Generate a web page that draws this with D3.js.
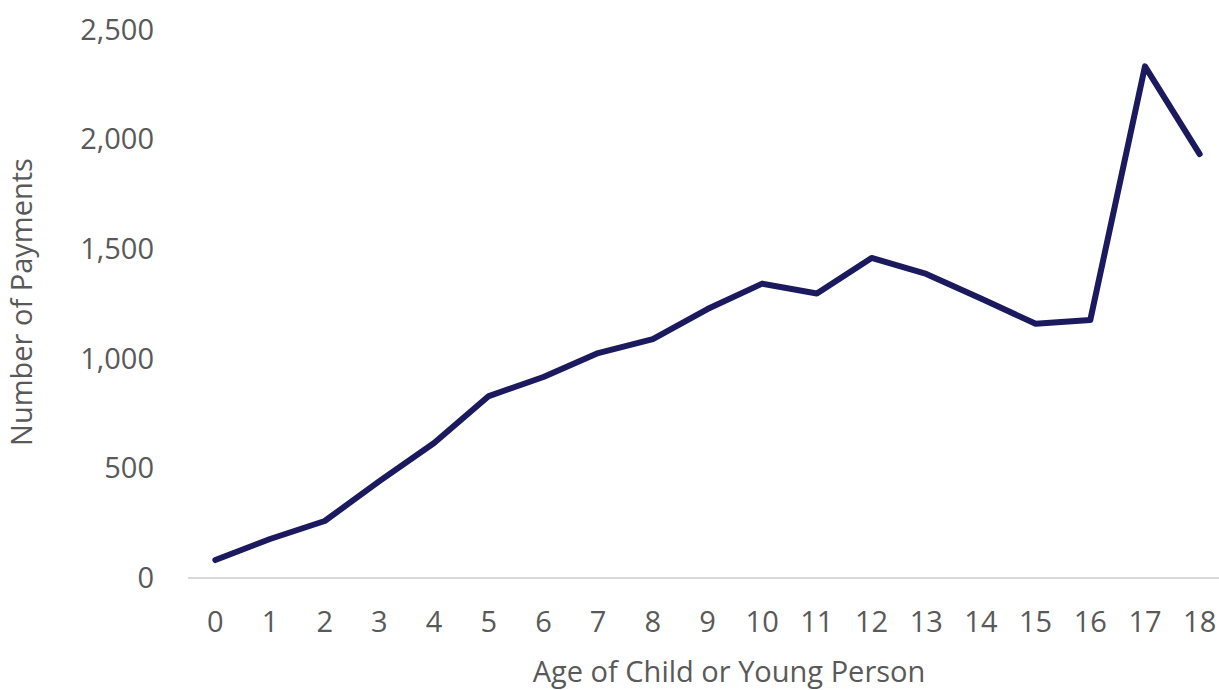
<!DOCTYPE html>
<html>
<head>
  <meta charset="utf-8">
  <title>Payments by age</title>
  <script src="https://d3js.org/d3.v7.min.js"></script>
  <style>
    body { margin: 0; background: #fff; }
    text { font-family: "Open Sans", sans-serif; fill: #595959; }
    .axis text { font-size: 29px; }
    .axis path, .axis line { display: none; }
    .title { font-size: 29px; }
  </style>
</head>
<body>
  <svg width="1219" height="690"></svg>

  <script>
    // ages along the x axis
    var ages = ["0","1","2","3","4","5","6","7","8","9","10","11","12","13","14","15","16","17","18"];
    // number of payments per age
    var payments = [82, 178, 260, 442, 616, 830, 917, 1026, 1090, 1227, 1343, 1298, 1460, 1387, 1275, 1160, 1177, 2334, 1934];
    var yTicks = [0, 500, 1000, 1500, 2000, 2500];

    var margin = { top: 30, right: -8, bottom: 112, left: 188 };
    var width = 1219 - margin.left - margin.right;
    var height = 690 - margin.top - margin.bottom;

    var x = d3.scaleBand()
      .domain(ages)
      .range([0, width]);

    var y = d3.scaleLinear()
      .domain([0, 2500])
      .range([height, 0]);

    var svg = d3.select("svg")
      .append("g")
      .attr("transform", "translate(" + margin.left + "," + margin.top + ")");

    // baseline
    svg.append("line")
      .attr("x1", 0)
      .attr("x2", width)
      .attr("y1", y(0))
      .attr("y2", y(0))
      .attr("stroke", "#d9d9d9")
      .attr("stroke-width", 2);

    svg.append("g")
      .attr("class", "y axis")
      .call(d3.axisLeft(y).tickValues(yTicks).tickFormat(d3.format(",")).tickSize(0).tickPadding(34));

    svg.append("g")
      .attr("class", "x axis")
      .attr("transform", "translate(0," + height + ")")
      .call(d3.axisBottom(x).tickSize(0).tickPadding(33));

    var line = d3.line()
      .x(function(d, i) { return x(ages[i]) + x.bandwidth() / 2; })
      .y(function(d) { return y(d); });

    svg.append("path")
      .datum(payments)
      .attr("fill", "none")
      .attr("stroke", "#1c1a5e")
      .attr("stroke-width", 6)
      .attr("stroke-linejoin", "round")
      .attr("stroke-linecap", "round")
      .attr("d", line);

    // axis titles
    d3.select("svg").append("text")
      .attr("class", "title")
      .attr("text-anchor", "middle")
      .attr("transform", "translate(32,302) rotate(-90)")
      .text("Number of Payments");

    d3.select("svg").append("text")
      .attr("class", "title")
      .attr("text-anchor", "middle")
      .attr("x", 729)
      .attr("y", 682)
      .text("Age of Child or Young Person");
  </script>
</body>
</html>
